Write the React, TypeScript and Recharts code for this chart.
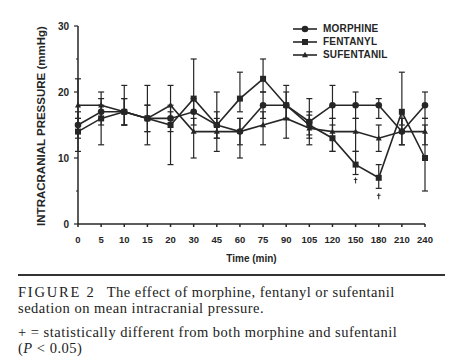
import { LineChart, Line, XAxis, YAxis, ErrorBar, Legend } from 'recharts';

const times = ['0', '5', '10', '15', '20', '30', '45', '60', '75', '90', '105', '120', '150', '180', '210', '240'];

const morphine = [15, 17, 17, 16, 16, 17, 15, 14, 18, 18, 15.5, 18, 18, 18, 14, 18];
const fentanyl = [14, 16, 17, 16, 15, 19, 15, 19, 22, 18, 15, 13, 9, 7, 17, 10];
const sufentanil = [18, 18, 17, 16, 18, 14, 14, 14, 15, 16, 14.5, 14, 14, 13, 14, 14];

// [down, up] error whiskers
const morphineErr = [[2, 2], [2, 2], [2, 2], [4, 5], [2, 2], [2, 2], [2, 2], [2, 2], [2, 2], [2, 3], [2, 3.5], [2, 3], [2, 2], [2, 1], [2, 2], [2, 2]];
const fentanylErr = [[3, 2], [4, 2], [2, 4], [2, 2], [6, 2], [2, 6], [2, 5], [2, 4], [2, 3], [2, 2], [2, 2], [2, 2], [1.5, 2], [1.6, 2], [2, 6], [5, 5]];
const sufentanilErr = [[2, 4], [2, 2], [2, 2], [2, 2], [2, 3], [4, 2], [3, 2], [4, 2], [3, 2], [3, 2], [2.5, 2], [3, 2], [3, 2], [2, 2], [2, 2], [2, 2]];

// position of the significance marks under the fentanyl whiskers
const fentanylSig = [null, null, null, null, null, null, null, null, null, null, null, null, 6.6, 4.2, null, null];

const yTicks = [0, 5, 10, 15, 20, 25, 30];

const data = times.map((t, i) => ({
  time: t,
  morphine: morphine[i],
  fentanyl: fentanyl[i],
  sufentanil: sufentanil[i],
  morphineErr: morphineErr[i],
  fentanylErr: fentanylErr[i],
  sufentanilErr: sufentanilErr[i],
  sig: fentanylSig[i],
}));

const INK = '#262626';
const SANS = '"Liberation Sans", Arial, sans-serif';
const SERIF = '"Liberation Serif", "Times New Roman", serif';

const CircleDot = (p: any) => <circle key={p.index} cx={p.cx} cy={p.cy} r={3.3} fill={INK} />;
const SquareDot = (p: any) => <rect key={p.index} x={p.cx - 3} y={p.cy - 3} width={6} height={6} fill={INK} />;
const TriDot = (p: any) => (
  <path key={p.index} d={`M${p.cx},${p.cy - 3.2} L${p.cx + 3},${p.cy + 2.2} L${p.cx - 3},${p.cy + 2.2} Z`} fill={INK} />
);
// small dagger-like cross
const SigDot = (p: any) =>
  p.value == null ? <g key={p.index} /> : (
    <g key={p.index} stroke={INK} strokeWidth={1}>
      <line x1={p.cx} x2={p.cx} y1={p.cy - 3} y2={p.cy + 3} />
      <line x1={p.cx - 1.8} x2={p.cx + 1.8} y1={p.cy - 1} y2={p.cy - 1} />
    </g>
  );

const YTick = (p: any) => {
  const v = p.payload.value;
  const major = v % 10 === 0;
  return (
    <g>
      <line x1={p.x + (major ? 4 : 6)} x2={p.x + 8} y1={p.y} y2={p.y} stroke={INK} strokeWidth={1.2} />
      {major && (
        <text x={p.x - 1} y={p.y} dy="0.35em" textAnchor="end" fontSize={10} fontWeight="bold" fontFamily={SANS} fill={INK}>
          {v}
        </text>
      )}
    </g>
  );
};

const legendRows = [
  { name: 'MORPHINE', Dot: CircleDot },
  { name: 'FENTANYL', Dot: SquareDot },
  { name: 'SUFENTANIL', Dot: TriDot },
];

const renderLegend = () => (
  <div style={{ fontFamily: SANS }}>
    {legendRows.map((r) => (
      <div key={r.name} style={{ display: 'flex', alignItems: 'center', height: 13 }}>
        <svg width={30} height={10}>
          <line x1={2} x2={26} y1={5} y2={5} stroke={INK} strokeWidth={1.6} />
          <r.Dot cx={14} cy={5} />
        </svg>
        <span style={{ fontSize: 10, fontWeight: 'bold', color: INK, marginLeft: 2, letterSpacing: 0.2 }}>{r.name}</span>
      </div>
    ))}
  </div>
);

const errProps = { width: 3, stroke: INK, strokeWidth: 1.2, direction: 'y' as const };

export default function App() {
  return (
    <div style={{ position: 'absolute', left: 0, top: 0, width: 452, height: 360, background: '#fff', overflow: 'hidden' }}>
      <LineChart width={452} height={275} data={data} margin={{ top: 26, right: 27, bottom: 11, left: 38 }}>
        <XAxis
          dataKey="time"
          height={40}
          interval={0}
          stroke={INK}
          strokeWidth={1.5}
          tickSize={3}
          tickMargin={9}
          tick={{ fontSize: 9.5, fontWeight: 'bold', fontFamily: SANS, fill: INK }}
          label={{ value: 'Time  (min)', position: 'insideBottom', offset: 2, fontSize: 10, fontWeight: 'bold', fontFamily: SANS, fill: INK }}
        />
        <YAxis
          width={40}
          domain={[0, 30]}
          ticks={yTicks}
          interval={0}
          stroke={INK}
          strokeWidth={1.5}
          tickLine={false}
          tickSize={4}
          tickMargin={4}
          tick={<YTick />}
          label={({ viewBox }: any) => (
            <text
              x={viewBox.x + 4}
              y={viewBox.y + viewBox.height / 2 + 1}
              transform={`rotate(-90 ${viewBox.x + 4} ${viewBox.y + viewBox.height / 2 + 1})`}
              textAnchor="middle"
              dominantBaseline="middle"
              fontSize={11.5}
              fontWeight="bold"
              fontFamily={SANS}
              fill={INK}
            >
              INTRACRANIAL PRESSURE  (mmHg)
            </text>
          )}
        />
        <Legend content={renderLegend} layout="horizontal" verticalAlign="middle" align="center" wrapperStyle={{ top: 22, left: 291, width: 140 }} />
        <Line dataKey="sufentanil" stroke={INK} strokeWidth={1.6} dot={TriDot} activeDot={false} isAnimationActive={false}>
          <ErrorBar dataKey="sufentanilErr" {...errProps} />
        </Line>
        <Line dataKey="morphine" stroke={INK} strokeWidth={1.6} dot={CircleDot} activeDot={false} isAnimationActive={false}>
          <ErrorBar dataKey="morphineErr" {...errProps} />
        </Line>
        <Line dataKey="fentanyl" stroke={INK} strokeWidth={1.6} dot={SquareDot} activeDot={false} isAnimationActive={false}>
          <ErrorBar dataKey="fentanylErr" {...errProps} />
        </Line>
        <Line dataKey="sig" stroke="none" dot={SigDot} activeDot={false} legendType="none" isAnimationActive={false} />
      </LineChart>
      <div style={{ position: 'absolute', left: 18, top: 274, width: 427, height: 2, background: '#333' }} />
      <div style={{ position: 'absolute', left: 18, top: 284, fontFamily: SERIF, fontSize: 14.5, letterSpacing: 0.5, color: '#222', lineHeight: '16px', whiteSpace: 'nowrap' }}>
        <div>
          <span style={{ letterSpacing: 1.8 }}>FIGURE 2</span>
          <span style={{ marginLeft: 11 }}>The effect of morphine, fentanyl or sufentanil</span>
        </div>
        <div>sedation on mean intracranial pressure.</div>
        <div style={{ marginTop: 8 }}>+ = statistically different from both morphine and sufentanil</div>
        <div>
          (<i>P</i> &lt; 0.05)
        </div>
      </div>
    </div>
  );
}
